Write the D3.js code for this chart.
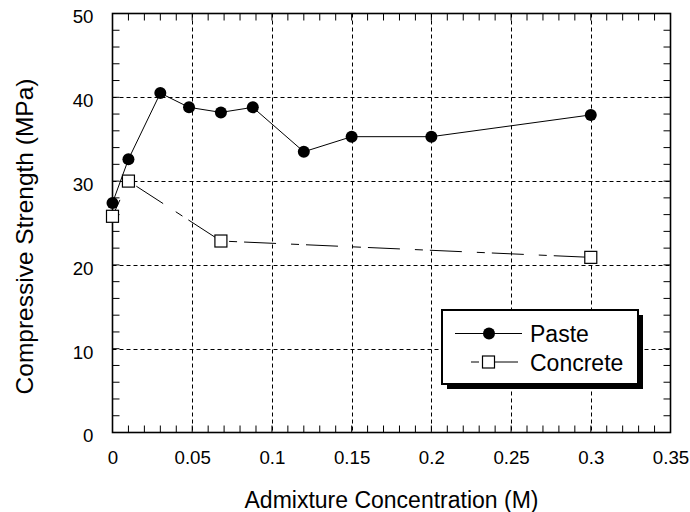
<!DOCTYPE html>
<html>
<head>
<meta charset="utf-8">
<script src="https://cdn.jsdelivr.net/npm/d3@7"></script>
<style>
  html, body { margin: 0; padding: 0; background: #fff; }
  svg { display: block; font-family: "Liberation Sans", Arial, Helvetica, sans-serif; }
</style>
</head>
<body>
<svg id="chart" width="690" height="512"></svg>
<script>
// Compressive strength vs. admixture concentration
const pasteConc = [0, 0.01, 0.03, 0.048, 0.068, 0.088, 0.12, 0.15, 0.2, 0.3];
const pasteStrength = [27.4, 32.6, 40.5, 38.8, 38.2, 38.8, 33.5, 35.3, 35.3, 37.9];
const concreteConc = [0, 0.01, 0.068, 0.3];
const concreteStrength = [25.8, 30.0, 22.85, 20.9];
const xTicks = [0, 0.05, 0.1, 0.15, 0.2, 0.25, 0.3, 0.35];
const yTicks = [0, 10, 20, 30, 40, 50];
const seriesNames = ["Paste", "Concrete"];
const xTitle = "Admixture Concentration (M)";
const yTitle = "Compressive Strength (MPa)";

const svg = d3.select("#chart");
const plotLeft = 112.5, plotRight = 670.5, plotTop = 13.5, plotBottom = 432.5;

const x = d3.scaleLinear().domain([0, 0.35]).range([plotLeft, plotRight]);
const y = d3.scaleLinear().domain([0, 50]).range([plotBottom, plotTop]);

const xMinor = d3.range(0, 36).map(i => i / 100);
const yMinor = d3.range(0, 26).map(i => i * 2);

// dashed grid at interior major ticks
const grid = svg.append("g").attr("stroke", "#000").attr("stroke-width", 1)
  .attr("stroke-dasharray", "4,3").attr("fill", "none");
grid.selectAll("line.gx").data(xTicks.filter(v => v > 0 && v < 0.35)).join("line")
  .attr("class", "gx")
  .attr("x1", d => Math.round(x(d)) + 0.5).attr("x2", d => Math.round(x(d)) + 0.5)
  .attr("y1", plotTop).attr("y2", plotBottom);
grid.selectAll("line.gy").data(yTicks.filter(v => v > 0 && v < 50)).join("line")
  .attr("class", "gy")
  .attr("y1", d => Math.round(y(d)) + 0.5).attr("y2", d => Math.round(y(d)) + 0.5)
  .attr("x1", plotLeft).attr("x2", plotRight);

// inward ticks on all four sides
const tickLen = 7;
const ticks = svg.append("g").attr("stroke", "#000").attr("stroke-width", 1);
ticks.selectAll("line.bt").data(xMinor).join("line").attr("class", "bt")
  .attr("x1", d => x(d)).attr("x2", d => x(d))
  .attr("y1", plotBottom).attr("y2", plotBottom - tickLen);
ticks.selectAll("line.tt").data(xMinor).join("line").attr("class", "tt")
  .attr("x1", d => x(d)).attr("x2", d => x(d))
  .attr("y1", plotTop).attr("y2", plotTop + tickLen);
ticks.selectAll("line.lt").data(yMinor).join("line").attr("class", "lt")
  .attr("y1", d => y(d)).attr("y2", d => y(d))
  .attr("x1", plotLeft).attr("x2", plotLeft + tickLen);
ticks.selectAll("line.rt").data(yMinor).join("line").attr("class", "rt")
  .attr("y1", d => y(d)).attr("y2", d => y(d))
  .attr("x1", plotRight).attr("x2", plotRight - tickLen);

// frame
svg.append("rect").attr("x", plotLeft).attr("y", plotTop)
  .attr("width", plotRight - plotLeft).attr("height", plotBottom - plotTop)
  .attr("fill", "none").attr("stroke", "#000").attr("stroke-width", 1.6);

// tick labels
const xAxis = d3.axisBottom(x).tickValues(xTicks).tickSize(0).tickPadding(0)
  .tickFormat(d => String(+d.toFixed(2)));
const gx = svg.append("g").attr("transform", `translate(0,${plotBottom})`).call(xAxis);
gx.select(".domain").remove();
gx.selectAll("text").attr("font-size", 18.7).attr("font-family", null)
  .attr("fill", "#000").attr("y", 31).attr("dy", null);

const yAxis = d3.axisLeft(y).tickValues(yTicks).tickSize(0).tickPadding(0);
const gy = svg.append("g").attr("transform", `translate(${plotLeft},0)`).call(yAxis);
gy.select(".domain").remove();
gy.selectAll("text").attr("font-size", 18.7).attr("font-family", null)
  .attr("fill", "#000").attr("x", -19).attr("dy", "0.5em");

// axis titles
svg.append("text").attr("x", (plotLeft + plotRight) / 2).attr("y", 508)
  .attr("text-anchor", "middle").attr("font-size", 23).text(xTitle);
svg.append("text").attr("transform", "translate(33,236.5) rotate(-90)")
  .attr("text-anchor", "middle").attr("font-size", 24.5).text(yTitle);

// series
const line = d3.line().x(d => x(d[0])).y(d => y(d[1]));
const pasteData = pasteConc.map((c, i) => [c, pasteStrength[i]]);
const concreteData = concreteConc.map((c, i) => [c, concreteStrength[i]]);
const concreteDash = "32,15,8,7";

svg.append("path").datum(concreteData).attr("d", line)
  .attr("fill", "none").attr("stroke", "#000").attr("stroke-width", 1)
  .attr("stroke-dasharray", concreteDash).attr("stroke-dashoffset", 14);
svg.append("path").datum(pasteData).attr("d", line)
  .attr("fill", "none").attr("stroke", "#000").attr("stroke-width", 1);

const sq = 12;
svg.append("g").selectAll("rect").data(concreteData).join("rect")
  .attr("x", d => x(d[0]) - sq / 2).attr("y", d => y(d[1]) - sq / 2)
  .attr("width", sq).attr("height", sq)
  .attr("fill", "#fff").attr("stroke", "#000").attr("stroke-width", 1.2);
svg.append("g").selectAll("circle").data(pasteData).join("circle")
  .attr("cx", d => x(d[0])).attr("cy", d => y(d[1])).attr("r", 6)
  .attr("fill", "#000");

// legend with drop shadow
const lg = svg.append("g");
const lx = 442, ly = 310, lw = 196, lh = 74;
lg.append("rect").attr("x", lx + 5).attr("y", ly + 5).attr("width", lw).attr("height", lh)
  .attr("fill", "#000");
lg.append("rect").attr("x", lx).attr("y", ly).attr("width", lw).attr("height", lh)
  .attr("fill", "#fff").attr("stroke", "#000").attr("stroke-width", 2);

const rowY = [333.5, 362];
lg.append("line").attr("x1", 455).attr("x2", 522).attr("y1", rowY[0]).attr("y2", rowY[0])
  .attr("stroke", "#000").attr("stroke-width", 1);
lg.append("circle").attr("cx", 489).attr("cy", rowY[0]).attr("r", 6).attr("fill", "#000");
lg.append("line").attr("x1", 456).attr("x2", 522).attr("y1", rowY[1]).attr("y2", rowY[1])
  .attr("stroke", "#000").attr("stroke-width", 1)
  .attr("stroke-dasharray", concreteDash).attr("stroke-dashoffset", 32);
lg.append("rect").attr("x", 488.5 - sq / 2).attr("y", rowY[1] - sq / 2)
  .attr("width", sq).attr("height", sq)
  .attr("fill", "#fff").attr("stroke", "#000").attr("stroke-width", 1.2);
lg.selectAll("text").data(seriesNames).join("text")
  .attr("x", 530).attr("y", (d, i) => rowY[i] + 8.5)
  .attr("font-size", 23).text(d => d);
</script>
</body>
</html>
